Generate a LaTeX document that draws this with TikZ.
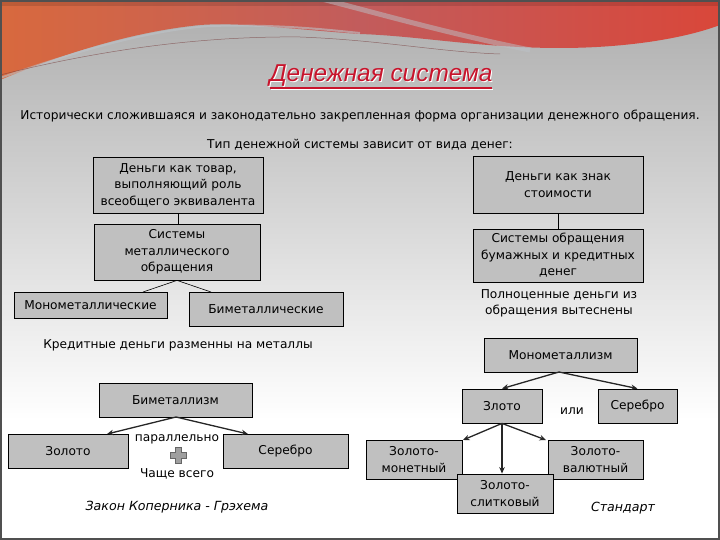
\documentclass[tikz,border=0pt]{standalone}
\usepackage{fontspec}
\setmainfont{DejaVu Sans}
\newfontfamily\titlefont{Liberation Sans}
\usetikzlibrary{arrows.meta,calc}
\definecolor{boxgray}{HTML}{C0C0C0}
\definecolor{titlered}{HTML}{C8142C}
\definecolor{bgtop}{HTML}{ADADAD}
\definecolor{redA}{HTML}{D8693E}
\definecolor{redB}{HTML}{C25C5C}
\definecolor{redC}{HTML}{D9473A}
\definecolor{framec}{HTML}{505050}
\definecolor{streak}{HTML}{BCC2C8}
\begin{document}
\begin{tikzpicture}[x=1pt,y=-1pt,
  box/.style={draw=black, line width=0.8pt, fill=boxgray, inner sep=1pt, align=center,
              font=\fontsize{12.2}{16.5}\selectfont},
  lbl/.style={align=center, inner sep=1pt, font=\fontsize{12.2}{16}\selectfont},
  itl/.style={inner sep=1pt, font=\fontsize{12.6}{16}\selectfont\itshape},
  link/.style={draw=black, line width=0.6pt},
  arr/.style={draw=black!85, line width=1.3pt, -{Stealth[length=6.5pt,width=5.5pt]}},
]
\useasboundingbox (0,0) rectangle (720,540);
% background
\fill[white] (0,0) rectangle (720,540);
\shade[top color=bgtop, bottom color=white] (0,0) rectangle (720,420);
% red wave
\shade[left color=redA, right color=redC, middle color=redB]
  (0,0) -- (720,0) -- (720,25)
  .. controls (680,40) and (620,48) .. (560,48)
  .. controls (480,48) and (420,36) .. (360,34)
  .. controls (300,30) and (240,22) .. (200,25)
  .. controls (130,32) and (60,55) .. (0,80) -- cycle;
\fill[black, opacity=0.12] (0,0) rectangle (720,6);
\draw[streak, line width=5pt, opacity=0.5]
  (318,-2) .. controls (380,14) and (450,34) .. (530,50);
\draw[streak, line width=2pt, opacity=0.6]
  (0,78) .. controls (80,50) and (150,30) .. (210,26) .. controls (280,24) and (330,30) .. (360,33);
\draw[black!40!redB, line width=0.5pt, opacity=0.6]
  (0,75) .. controls (100,50) and (200,36) .. (300,37) .. controls (380,40) and (440,52) .. (500,54);
% frame
\draw[framec, line width=1.5pt] (1,1) rectangle (719,539);

% title
\node[text=white, font=\titlefont\itshape\fontsize{24.4}{26}\selectfont] at (382,77) {Денежная система};
\node[text=titlered, font=\titlefont\itshape\fontsize{24.4}{26}\selectfont] (title) at (381,76) {Денежная система};
\draw[white, line width=1pt] (271,90) -- (493,90);
\draw[titlered, line width=2pt] (270,88) -- (492,88);

\node[lbl] (sub) at (360,116) {Исторически сложившаяся и законодательно закрепленная форма организации денежного обращения.};
\node[lbl] (tip) at (360,145) {Тип денежной системы зависит от вида денег:};

% left branch
\node[box, minimum width=170, minimum height=56] (tovar) at (178,185) {Деньги как товар,\\выполняющий роль\\всеобщего эквивалента};
\node[box, minimum width=166, minimum height=56] (metall) at (177,252) {Системы\\металлического\\обращения};
\node[box, minimum width=153, minimum height=26] (mono) at (90.5,305) {Монометаллические};
\node[box, minimum width=154, minimum height=34] (bi) at (266,309) {Биметаллические};
\coordinate (monotop) at (143,292);
\coordinate (bitop) at (211,292);
\draw[link] (tovar.south) -- (tovar.south |- metall.north);
\draw[link] (metall.south) -- (monotop);
\draw[link] (metall.south) -- (bitop);
\node[lbl] (kredit) at (178,345) {Кредитные деньги разменны на металлы};

\node[box, minimum width=153, minimum height=34] (bimz) at (175.5,400) {Биметаллизм};
\node[box, minimum width=120, minimum height=34] (zolL) at (68,451) {Золото};
\node[box, minimum width=125, minimum height=34] (serL) at (285.5,451) {Серебро};
\coordinate (bimzb) at (176,417);
\coordinate (zolLt) at (107,434);
\coordinate (serLt) at (248,434);
\draw[arr] (bimzb) -- (zolLt);
\draw[arr] (bimzb) -- (serLt);
\node[lbl] (par) at (177,439) {параллельно};
\node[lbl] (chas) at (177,474) {Чаще всего};
\fill[gray!75, draw=black!60, line width=0.6pt]
  (175,447) -- (181,447) -- (181,452) -- (186,452) -- (186,458) -- (181,458) -- (181,463)
  -- (175,463) -- (175,458) -- (170,458) -- (170,452) -- (175,452) -- cycle;
\node[itl] (zakon) at (177,507) {Закон Коперника - Грэхема};

% right branch
\node[box, minimum width=170, minimum height=57] (znak) at (558,184.5) {Деньги как знак\\стоимости};
\node[box, minimum width=170, minimum height=53] (bum) at (558,255.5) {Системы обращения\\бумажных и кредитных\\денег};
\draw[link] (znak.south) -- (bum.north);
\node[lbl] (poln) at (559,303) {Полноценные деньги из\\обращения вытеснены};

\node[box, minimum width=153, minimum height=34] (monomz) at (560.5,355) {Монометаллизм};
\node[box, minimum width=80, minimum height=34] (zloto) at (502,406) {Злото};
\node[box, minimum width=79, minimum height=34] (serR) at (637.5,406) {Серебро};
\node[lbl] (ili) at (572,411) {или};
\coordinate (monomzb) at (559,372);
\draw[arr] (monomzb) -- (zloto.north);
\draw[arr] (monomzb) -- (serR.north);

\node[box, minimum width=96, minimum height=39] (zmon) at (414,459.5) {Золото-\\монетный};
\node[box, minimum width=95, minimum height=39] (zval) at (595.5,459.5) {Золото-\\валютный};
\node[box, minimum width=96, minimum height=39] (zslit) at (505,493.5) {Золото-\\слитковый};
\coordinate (zmont) at (463,440);
\coordinate (zvalt) at (546,440);
\draw[arr] (zloto.south) -- (zmont);
\draw[arr] (zloto.south) -- (zloto.south |- zslit.north);
\draw[arr] (zloto.south) -- (zvalt);
\node[itl] (stand) at (623,508) {Стандарт};
\end{tikzpicture}
\end{document}
